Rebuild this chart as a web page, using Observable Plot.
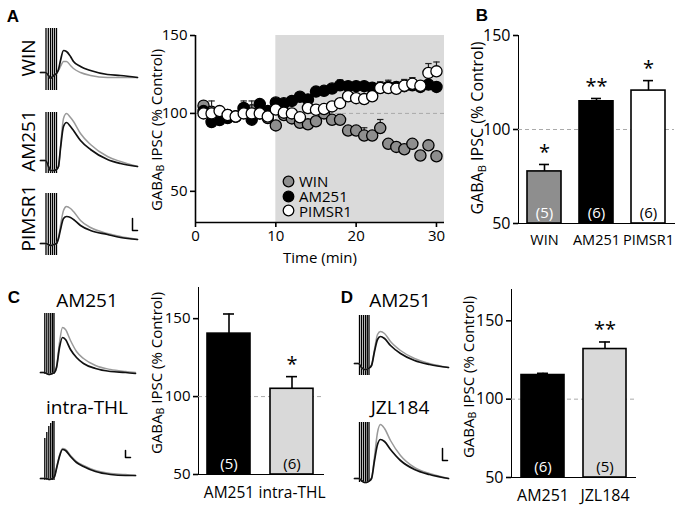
<!DOCTYPE html>
<html><head><meta charset="utf-8">
<script src="https://cdn.jsdelivr.net/npm/d3@7"></script>
<script src="https://cdn.jsdelivr.net/npm/@observablehq/plot@0.6"></script>
<style>
body{margin:0;background:#fff}
#fig{position:relative;width:682px;height:505px;overflow:hidden;font-family:"Open Sans",sans-serif;color:#000;background:#fff}
.abs{position:absolute}
.abs svg{overflow:visible}
.vl{position:absolute;transform:translate(-50%,-50%) rotate(-90deg);white-space:nowrap;line-height:1}
.hl{position:absolute;transform:translate(-50%,-50%);white-space:nowrap;line-height:1}
.pl{position:absolute;font-family:Arial,"Liberation Sans",sans-serif;font-weight:bold;font-size:17px;transform:translate(-50%,-50%);line-height:1}
sub{font-size:0.7em;vertical-align:-0.25em;line-height:0}
[aria-label*="axis"] path,[aria-label*="axis"] line{stroke-width:1.6px}
</style></head>
<body><div id="fig"></div>
<script>
// ---------- DATA ----------
// Panel A time course (min) and GABA_B IPSC (% control)
const minutes = [1,2,3,4,5,6,7,8,9,10,11,12,13,14,15,16,17,18,19,20,21,22,23,24,25,26,27,28,29,30];
const winMean = [105,101,100,99,98,103,102,100,97,92.3,99,96.8,94,93,95,100,95.9,95.9,89,89,85.8,85.8,90.6,80.5,78.5,77,80.5,73,79.5,72.5];
const winSem  = [2,2,2,2,2,2,2,2,2,2,2,2,2,2,2,2,2,2,2,2,5,2,5.5,2,2,2,2,2,2,2];
const am251Mean = [101.5,94.5,95.7,97,98,103.5,96,106,101.5,107,106.5,108,110.7,109,114,114.5,116,118,117.5,117.5,117.5,116.5,116.5,117,117,117.5,118,117,118.5,117];
const am251Sem  = [2,2,2,2,2,4.5,2,2,2,2,2,2,2,2,2,2,2,3.5,2,2,2,2,2,2,2,2,2,2,2,2];
const pimsrMean = [100,100,101.5,99,98,100,100,100,98,102.5,100.5,100,97.5,103.5,102.4,102.8,104.5,106.6,111,109.8,109.2,111,116.3,116.3,115.8,117.8,119,117.8,126,127];
const pimsrSem  = [2,8,2,2,2,2,8,2,2,2,2,2,2,2,2,2,2,2,2,2,2,2,4,5,3,4,4,2,6,6];
const drugPeriod = [10, 31];

// Panel B summary
const bCats = ["WIN","AM251","PIMSR1"];
const bMeans = [77.7,115,120.7];
const bSems = [3.7,1.5,5.3];
const bN = ["(5)","(6)","(6)"];
const bStars = ["*","**","*"];
// Panel C summary
const cCats = ["AM251","intra-THL"];
const cMeans = [140.4,105];
const cSems = [12.6,7.8];
const cN = ["(5)","(6)"];
const cStars = ["","*"];
// Panel D summary
const dCats = ["AM251","JZL184"];
const dMeans = [115.4,132];
const dSems = [1.1,4.5];
const dN = ["(6)","(5)"];
const dStars = ["","**"];

// Example traces (time, arbitrary units; amplitude, arbitrary units)
const tA = [0,5,8,10,13,16,18,20,23,26,30,33,40,50,67,80,97];
const winBlack   = [0,0,-3,-6,-3,-1,3,12,22,21,16,11,6,2,-2,-3,-5];
const winGray    = [0,0,-3,-6,-3,-1,2,6,11,11,7,4,0,-3,-5,-5,-5];
const amABlack   = [0,0,-6,-10,-10,-9,-6,12,34,38,34,30,20,11,1,-3,-6];
const amAGray    = [0,0,-6,-10,-10,-9,-6,14,42,47,43,39,27,16,4,-1,-6];
const pimsrBlack = [0,0,-1,-2,-1,0,5,14,25,27,26,24,18,13,9,6,4];
const pimsrGray  = [0,0,-1,-2,-1,0,6,18,33,37,35,32,23,16,10,7,4];
const tC = [0,3,6,9,12,14,16,19,22,25,30,36,43,55,70,85,95];
const cAmBlack  = [0,0,-1,-2,-1,0,5,25,35,33,23,15,9,4,1,0,-1];
const cAmGray   = [0,0,-1,-2,-1,0,5,30,45,43,32,21,14,7,3,1,0];
const cThlBlack = [0,0,0,-1,0,2,10,22,29,28,22,16,12,7,4,3,3];
const cThlGray  = [0,0,0,-1,0,2,10,23,30,29,23,17,13,8,5,4,3];
const tD = [0,4,7,10,12,14,17,20,23,26,30,36,46,60,75,94];
const dAmBlack  = [0,0,-4,-6,-6,-5,-2,12,24,27,25,18,10,3,-1,-4];
const dAmGray   = [0,0,-4,-6,-6,-5,-2,14,29,32,30,22,13,5,0,-4];
const dJzlBlack = [0,0,-2,-4,-4,-3,0,18,34,39,37,29,18,9,4,0];
const dJzlGray  = [0,0,-2,-4,-4,-3,0,22,46,54,50,38,23,11,5,0];
// stimulus artifacts: times, tops
const artA = [5.5,7.8,10,12,14,16];
const artC = [4.3,6.3,8.3,10.2,12,13.5];
const artD = [5,7,9,11,12.8,14.5];
const artThlTops = [40,46,52,55,57,57];

// ---------- LAYOUT ----------
const fig = document.getElementById("fig");
const FONT = '"Open Sans", sans-serif';
function place(node, left, top) {
  const d = document.createElement("div");
  d.className = "abs"; d.style.left = left + "px"; d.style.top = top + "px";
  d.appendChild(node); fig.appendChild(d); return d;
}
function html(cls, content, x, y, size, extra) {
  const d = document.createElement("div");
  d.className = cls; d.innerHTML = content;
  d.style.left = x + "px"; d.style.top = y + "px";
  if (size) d.style.fontSize = size + "px";
  if (extra) Object.assign(d.style, extra);
  fig.appendChild(d); return d;
}

// traces
function trace({left, baseline, yDom, t, black, gray, arts, artTop, artBottom, bar}) {
  const rows = t.map((tt, i) => ({t: tt, b: black[i], g: gray[i]}));
  const artRows = arts.map((a, i) => ({t: a, top: Array.isArray(artTop) ? artTop[i] : artTop}));
  const marks = [
    Plot.ruleX(artRows, {x: "t", y1: artBottom, y2: "top", stroke: "black", strokeWidth: 1.3}),
    Plot.line(rows, {x: "t", y: "g", stroke: "#9a9a9a", strokeWidth: 1.5, curve: "monotone-x"}),
    Plot.line(rows, {x: "t", y: "b", stroke: "#111", strokeWidth: 1.7, curve: "monotone-x"})
  ];
  if (bar) {
    marks.push(Plot.line([[bar.t, bar.v + bar.dv], [bar.t, bar.v], [bar.t + bar.dt, bar.v]],
      {stroke: "black", strokeWidth: 1.5}));
  }
  const p = Plot.plot({
    width: 100, height: yDom[1] - yDom[0], margin: 0,
    x: {domain: [0, 100], axis: null}, y: {domain: yDom, axis: null},
    style: {background: "transparent", overflow: "visible"},
    marks
  });
  place(p, left, baseline - yDom[1]);
}
trace({left: 40, baseline: 72, yDom: [-20, 46], t: tA, black: winBlack, gray: winGray, arts: artA, artTop: 44, artBottom: -18});
trace({left: 40, baseline: 160, yDom: [-15, 50], t: tA, black: amABlack, gray: amAGray, arts: artA, artTop: 48, artBottom: -13});
trace({left: 40, baseline: 243, yDom: [-14, 52], t: tA, black: pimsrBlack, gray: pimsrGray, arts: artA, artTop: 50, artBottom: -12,
  bar: {t: 92, v: 13, dv: 12, dt: 5}});
trace({left: 40, baseline: 372, yDom: [-5, 62], t: tC, black: cAmBlack, gray: cAmGray, arts: artC, artTop: 59, artBottom: -2});
trace({left: 40, baseline: 478, yDom: [-5, 60], t: tC, black: cThlBlack, gray: cThlGray, arts: artC, artTop: artThlTops, artBottom: -2,
  bar: {t: 85, v: 21, dv: 7, dt: 5}});
trace({left: 354, baseline: 363, yDom: [-14, 50], t: tD, black: dAmBlack, gray: dAmGray, arts: artD, artTop: 48, artBottom: -12});
trace({left: 354, baseline: 478, yDom: [-6, 60], t: tD, black: dJzlBlack, gray: dJzlGray, arts: artD, artTop: 56, artBottom: -4,
  bar: {t: 88, v: 18, dv: 12, dt: 5}});

// time course
const seriesDefs = [
  {name: "WIN", mean: winMean, sem: winSem, fill: "#8e8e8e"},
  {name: "AM251", mean: am251Mean, sem: am251Sem, fill: "#000"},
  {name: "PIMSR1", mean: pimsrMean, sem: pimsrSem, fill: "#fff"}
];
const tcMarks = [
  Plot.rect([drugPeriod], {x1: d => d[0], x2: d => d[1], y1: 30, y2: 150, fill: "#dadada"}),
  Plot.ruleY([100], {stroke: "#aaa", strokeDasharray: "4,3", strokeWidth: 1}),
  Plot.ruleX([0], {stroke: "black", strokeWidth: 1.6}),
  Plot.ruleY([30], {stroke: "black", strokeWidth: 1.6})
];
for (const s of seriesDefs) {
  const rows = minutes.map((m, i) => ({t: m, v: s.mean[i], top: s.mean[i] + s.sem[i]}));
  tcMarks.push(
    Plot.ruleX(rows, {x: "t", y1: "v", y2: "top", stroke: "#222", strokeWidth: 1.2}),
    Plot.link(rows, {x1: d => d.t - 0.4, x2: d => d.t + 0.4, y1: "top", y2: "top", stroke: "#222", strokeWidth: 1.2}),
    Plot.dot(rows, {x: "t", y: "v", r: 5.6, fill: s.fill, stroke: "black", strokeWidth: 1.3})
  );
}
const tc = Plot.plot({
  width: 304, height: 242, marginLeft: 45, marginRight: 10, marginTop: 15, marginBottom: 40,
  x: {domain: [0, 31], ticks: [0, 10, 20, 30], tickSize: 5, tickPadding: 3, label: null},
  y: {domain: [30, 150], ticks: [50, 100, 150], tickSize: 5, tickPadding: 3, label: null},
  style: {fontSize: "15px", fontFamily: FONT, color: "black", background: "transparent", overflow: "visible"},
  marks: tcMarks
});
place(tc, 150, 20);
html("hl", "Time (min)", 320, 257, 15);
html("vl", "GABA<sub>B</sub> IPSC (% Control)", 156, 130, 15);
// legend
const legend = document.createElement("div");
legend.className = "abs";
legend.style.left = "282px"; legend.style.top = "174px";
legend.innerHTML = seriesDefs.map(s =>
  `<div style="display:flex;align-items:center;height:14.8px;font-size:15px;line-height:14.8px">` +
  `<svg width="13" height="13" style="margin-right:4px"><circle cx="6.5" cy="6.5" r="5.3" fill="${s.fill}" stroke="black" stroke-width="1.3"/></svg>${s.name}</div>`
).join("");
fig.appendChild(legend);

// bar charts
function barChart({cats, means, sems, ns, stars, fills, width, height, marginTop, left, top, yDom, pi, po, capInset, tickPad, fs, xfs}) {
  const rows = cats.map((c, i) => ({c, m: means[i], s: sems[i], n: ns[i], star: stars[i], fill: fills[c]}));
  const dark = f => f === "#000" || f === "#8e8e8e";
  const p = Plot.plot({
    width, height, marginLeft: 48, marginRight: 8, marginTop, marginBottom: 30,
    x: {domain: cats, paddingInner: pi, paddingOuter: po, tickSize: 0, tickPadding: tickPad, label: null, line: true},
    y: {domain: yDom, ticks: [50, 100, 150], tickSize: 5, tickPadding: 3, label: null, line: true},
    style: {fontSize: fs + "px", fontFamily: FONT, color: "black", background: "transparent", overflow: "visible"},
    marks: [
      Plot.ruleY([100], {stroke: "#aaa", strokeDasharray: "4,3", strokeWidth: 1}),
      Plot.ruleX(rows, {x: "c", y1: "m", y2: d => d.m + d.s, stroke: "black", strokeWidth: 1.6}),
      Plot.tickY(rows, {x: "c", y: d => d.m + d.s, stroke: "black", strokeWidth: 1.6, insetLeft: capInset, insetRight: capInset}),
      Plot.barY(rows, {x: "c", y1: yDom[0], y2: "m", fill: "fill", stroke: "black", strokeWidth: 1.6}),
      Plot.text(rows, {x: "c", y: yDom[0], text: "n", dy: -10, fontSize: 15, fill: d => dark(d.fill) ? "white" : "black"}),
      Plot.text(rows, {x: "c", y: d => d.m + d.s, text: "star", dy: -12, fontSize: 20, fill: "black", letterSpacing: "3px"})
    ]
  });
  d3.select(p).selectAll('[aria-label^="x-axis"] text').style("font-size", xfs + "px");
  return place(p, left, top);
}
const fillsB = {"WIN": "#8e8e8e", "AM251": "#000", "PIMSR1": "#fff"};
barChart({cats: bCats, means: bMeans, sems: bSems, ns: bN, stars: bStars, fills: fillsB,
  width: 212, height: 233, marginTop: 15, left: 470, top: 20, yDom: [50, 150], pi: 0.35, po: 0.17, capInset: 12, tickPad: 11, fs: 16, xfs: 14.5});
barChart({cats: cCats, means: cMeans, sems: cSems, ns: cN, stars: cStars, fills: {"AM251": "#000", "intra-THL": "#d9d9d9"},
  width: 181, height: 229, marginTop: 12, left: 150, top: 275, yDom: [50, 170], pi: 0.31, po: 0.145, capInset: 16, tickPad: 12, fs: 15, xfs: 15.5});
barChart({cats: dCats, means: dMeans, sems: dSems, ns: dN, stars: dStars, fills: {"AM251": "#000", "JZL184": "#d9d9d9"},
  width: 180, height: 232, marginTop: 14, left: 463, top: 275, yDom: [50, 170], pi: 0.31, po: 0.145, capInset: 16, tickPad: 12, fs: 16, xfs: 16});

html("vl", "GABA<sub>B</sub> IPSC (% Control)", 477, 128, 16);
html("vl", "GABA<sub>B</sub> IPSC (% Control)", 156, 373, 15);
html("vl", "GABA<sub>B</sub> IPSC (% Control)", 468, 377, 15);

// trace labels
html("vl", "WIN", 28, 58, 19);
html("vl", "AM251", 28, 141, 19);
html("vl", "PIMSR1", 28, 218, 19);
html("hl", "AM251", 87, 300, 19);
html("hl", "intra-THL", 87, 407, 19);
html("hl", "AM251", 400, 300, 19);
html("hl", "JZL184", 400, 407, 19);

// panel letters
html("pl", "A", 13, 16);
html("pl", "B", 482, 15);
html("pl", "C", 14, 297);
html("pl", "D", 347, 297);
</script></body></html>
